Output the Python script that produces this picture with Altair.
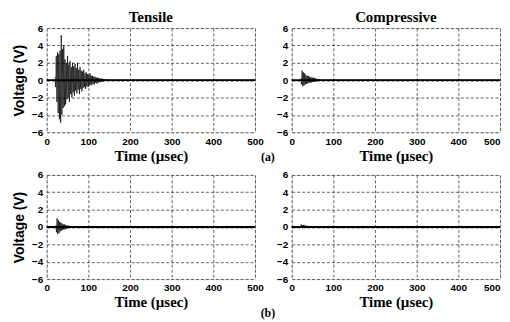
import altair as alt
import pandas as pd

# ---- data (voltage samples, V) ----
dt = 1.5  # sampling step in µsec used when reading the traces

tens_a_start = 20
tens_a = [0.3, -0.8, 2.8, -2.5, 3.2, -3.8, 3.0, -4.5, 3.4, -4.9,
          5.2, -4.0, 3.6, -3.2, 4.0, -3.0, 2.4, -2.8, 2.0, -2.2,
          2.8, -2.0, 1.8, -2.5, 2.2, -1.6, 1.5, -2.0, 2.0, -1.4,
          1.6, -1.8, 1.9, -1.2, 1.4, -1.5, 2.0, -1.1, 1.2, -1.6,
          1.5, -1.0, 1.1, -1.3, 1.0, -0.9, 1.2, -0.8, 0.8, -1.0,
          0.9, -0.7, 0.7, -0.8, 0.6, -0.6, 0.8, -0.5, 0.5, -0.6,
          0.5, -0.4, 0.4, -0.5, 0.4, -0.3, 0.3, -0.4, 0.3, -0.3,
          0.25, -0.2, 0.2, -0.25, 0.2, -0.15, 0.15, -0.2, 0.15, -0.1,
          0.1, -0.1, 0.1, -0.08, 0.08, -0.05, 0.05, -0.05, 0.03, 0.0]

comp_a_start = 22
comp_a = [0.2, -0.5, 1.1, -0.7, 0.9, -0.6, 0.8, -0.5, 0.6, -0.4,
          0.5, -0.4, 0.5, -0.3, 0.4, -0.3, 0.35, -0.25, 0.3, -0.2,
          0.3, -0.2, 0.25, -0.15, 0.2, -0.15, 0.15, -0.1, 0.12, -0.08,
          0.1, -0.06, 0.08, -0.05, 0.05, -0.03, 0.03, 0.0]

tens_b_start = 22
tens_b = [0.2, -0.6, 1.0, -0.8, 0.8, -0.7, 0.6, -0.5, 0.5, -0.4,
          0.4, -0.35, 0.3, -0.3, 0.3, -0.25, 0.2, -0.2, 0.2, -0.15,
          0.15, -0.1, 0.12, -0.1, 0.08, -0.06, 0.05, -0.04, 0.03, 0.0]

comp_b_start = 20
comp_b = [0.1, -0.1, 0.3, -0.1, 0.2, 0.05, 0.25, 0.0, 0.2, 0.05,
          0.15, 0.0, 0.12, 0.02, 0.1, 0.0, 0.08, 0.0, 0.05, 0.0]

t_end = 500
x_ticks = [0, 100, 200, 300, 400, 500]
y_ticks = [-6, -4, -2, 0, 2, 4, 6]

SERIF = "Liberation Serif"
SANS = "Liberation Sans"

W, H = 210, 105


def trace(start, vals):
    t = [start + dt * i for i in range(len(vals))] + [t_end]
    v = list(vals) + [0.0]
    return pd.DataFrame({"t": t, "v": v})


def panel(start, vals, title, left, label=None, label_xy=None):
    df = trace(start, vals)
    if left:
        lab_align = "center"
    else:
        lab_align = {"condition": {"test": "datum.value == 500", "value": "right"},
                     "value": "center"}
    xscale = alt.Scale(domain=[0, 500], nice=False, zero=False)
    yscale = alt.Scale(domain=[-6, 6], nice=False, zero=False)
    xax = alt.Axis(values=x_ticks, title="Time (µsec)", grid=True, gridColor="#222",
                   gridDash=[3, 2], gridWidth=0.7, domain=False, ticks=False,
                   labelFont=SANS, labelFontWeight="bold", labelFontSize=10,
                   labelPadding=4, labelColor="black", labelFlush=False,
                   labelOverlap=False, labelAlign=lab_align,
                   titleFont=SERIF, titleFontWeight="bold", titleFontSize=15,
                   titlePadding=2, titleColor="black")
    yax = alt.Axis(values=y_ticks, title="Voltage (V)" if left else None, grid=True,
                   gridColor="#222", gridDash=[3, 2], gridWidth=0.7, domain=False,
                   ticks=False, labelFont=SANS, labelFontWeight="bold", labelFontSize=10,
                   labelPadding=4, labelColor="black", labelFlush=False,
                   labelOverlap=False, labelBound=False,
                   titleFont=SANS, titleFontWeight="bold", titleFontSize=14,
                   titlePadding=5, titleColor="black")
    line = alt.Chart(df).mark_line(color="black", strokeWidth=0.7, clip=True).encode(
        x=alt.X("t:Q", scale=xscale, axis=xax),
        y=alt.Y("v:Q", scale=yscale, axis=yax),
    )
    zero = alt.Chart(pd.DataFrame({"v": [0]})).mark_rule(color="black", strokeWidth=1.8).encode(
        y=alt.Y("v:Q", scale=yscale, axis=yax))
    layers = [line, zero]
    if title:
        tt = alt.Chart(pd.DataFrame({"s": [title]})).mark_text(
            font=SERIF, fontWeight="bold", fontSize=15, color="black", baseline="middle").encode(
            text="s:N", x=alt.value(W / 2), y=alt.value(-11))
        layers.append(tt)
    if label:
        lab = alt.Chart(pd.DataFrame({"s": [label]})).mark_text(
            font=SERIF, fontWeight="bold", fontSize=12, color="black", baseline="middle").encode(
            text="s:N", x=alt.value(label_xy[0]), y=alt.value(label_xy[1]))
        layers.append(lab)
    return alt.layer(*layers).properties(width=W, height=H)


p1 = panel(tens_a_start, tens_a, "Tensile", True, "(a)", (223, 130))
p2 = panel(comp_a_start, comp_a, "Compressive", False)
p3 = panel(tens_b_start, tens_b, None, True, "(b)", (223, 139))
p4 = panel(comp_b_start, comp_b, None, False)

chart = alt.concat(p1, p2, p3, p4, columns=2, spacing={"row": 43, "column": 37},
                   bounds="flush").properties(
    padding={"left": 4, "top": 0, "right": 0, "bottom": 0}
).configure_view(stroke="black", strokeWidth=1.6).configure(background="white")

chart.save("out.html", embed_options={"renderer": "svg", "actions": False})
